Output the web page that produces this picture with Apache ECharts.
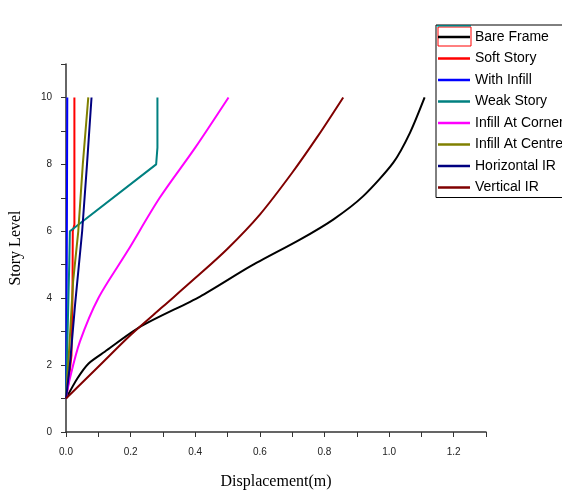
<!DOCTYPE html>
<html>
<head>
<meta charset="utf-8">
<script src="https://cdn.jsdelivr.net/npm/echarts@6/dist/echarts.min.js"></script>
<style>
  html, body { margin: 0; padding: 0; background: #fff; }
  #chart { width: 562px; height: 490px; }
</style>
</head>
<body>
<div id="chart"></div>
<script>
  // series names, in legend order
  var seriesNames = ['Bare Frame', 'Soft Story', 'With Infill', 'Weak Story',
    'Infill At Corner', 'Infill At Centre', 'Horizontal IR', 'Vertical IR']
  var seriesColors = ['#000000', '#ff0000', '#0000ff', '#008080',
    '#ff00ff', '#808000', '#000080', '#800000']
  // curved ones get smoothed, stepped ones stay straight
  var seriesSmooth = [0.25, false, false, false, 0.3, false, false, 0.3]

  // displacement (m) / story level
  var bareX = [0, 0.035, 0.07, 0.12, 0.23, 0.415, 0.57, 0.724, 0.827, 0.92, 1.013, 1.065, 1.11]
  var bareY = [1, 1.6, 2.05, 2.4, 3.15, 4.05, 4.95, 5.75, 6.35, 7.05, 8.05, 8.95, 10]

  var softX = [0, 0.008, 0.017, 0.02, 0.021, 0.026, 0.026]
  var softY = [1, 1.5, 2.3, 4, 6, 6.2, 10]

  var infillX = [0, 0.002, 0.003, 0.004]
  var infillY = [1, 4, 7, 10]

  var weakX = [0, 0.005, 0.01, 0.012, 0.279, 0.283, 0.283]
  var weakY = [1, 3, 5, 6, 8, 8.5, 10]

  var cornerX = [0, 0.012, 0.043, 0.1, 0.19, 0.29, 0.4, 0.503]
  var cornerY = [1, 1.6, 2.7, 4.0, 5.4, 7.0, 8.5, 10]

  var centreX = [0, 0.01, 0.022, 0.038, 0.052, 0.069]
  var centreY = [1, 2.5, 4.5, 6, 8, 10]

  var horizX = [0, 0.012, 0.028, 0.05, 0.065, 0.079]
  var horizY = [1, 2, 3.8, 6, 8, 10]

  var vertX = [0, 0.1, 0.2, 0.3, 0.4, 0.5, 0.6, 0.7, 0.78, 0.858]
  var vertY = [1, 1.95, 2.9, 3.75, 4.6, 5.48, 6.5, 7.75, 8.85, 10]

  var xTickLabels = ['0.0', '0.2', '0.4', '0.6', '0.8', '1.0', '1.2']
  var yTickLabels = ['0', '2', '4', '6', '8', '10']

  var allX = [bareX, softX, infillX, weakX, cornerX, centreX, horizX, vertX]
  var allY = [bareY, softY, infillY, weakY, cornerY, centreY, horizY, vertY]

  function zip(xs, ys) {
    return xs.map(function (x, i) { return [x, ys[i]] })
  }

  var chart = echarts.init(document.getElementById('chart'))

  var series = seriesNames.map(function (name, i) {
    return {
      name: name,
      type: 'line',
      symbol: 'none',
      smooth: seriesSmooth[i],
      data: zip(allX[i], allY[i]),
      lineStyle: { color: seriesColors[i], width: 2 },
      itemStyle: { color: seriesColors[i] }
    }
  })

  var options = {
    animation: false,
    grid: { left: 66, right: 76, top: 64, bottom: 58, outerBoundsMode: 'none', containLabel: false },
    legend: {
      orient: 'vertical',
      left: 436,
      top: 25,
      padding: [5, 4, 3, 2],
      icon: 'rect',
      itemWidth: 32,
      itemHeight: 2.5,
      itemGap: 7.5,
      borderColor: '#000',
      borderWidth: 1,
      data: seriesNames,
      textStyle: { fontFamily: 'Liberation Sans', fontSize: 14, color: '#000', lineHeight: 14 }
    },
    xAxis: {
      type: 'value',
      min: 0,
      max: 1.3,
      interval: 0.1,
      name: 'Displacement(m)',
      nameLocation: 'middle',
      nameGap: 42,
      nameTextStyle: { fontFamily: 'Liberation Serif', fontSize: 16, color: '#000' },
      splitLine: { show: false },
      axisLine: { onZero: false, lineStyle: { color: '#333', width: 1.5 } },
      axisTick: { inside: false, length: 5, lineStyle: { color: '#333' } },
      axisLabel: {
        margin: 15,
        fontFamily: 'Liberation Sans',
        fontSize: 10,
        color: '#222',
        formatter: function (v) {
          var k = Math.round(v * 10)
          return k % 2 === 0 ? (xTickLabels[k / 2] || '') : ''
        }
      }
    },
    yAxis: {
      type: 'value',
      min: 0,
      max: 11,
      interval: 1,
      name: 'Story Level',
      nameLocation: 'middle',
      nameGap: 42,
      nameTextStyle: { fontFamily: 'Liberation Serif', fontSize: 16, color: '#000' },
      splitLine: { show: false },
      axisLine: { onZero: false, lineStyle: { color: '#333', width: 1.5 } },
      axisTick: { inside: false, length: 5, lineStyle: { color: '#333' } },
      axisLabel: {
        margin: 14,
        fontFamily: 'Liberation Sans',
        fontSize: 10,
        color: '#222',
        formatter: function (v) {
          var k = Math.round(v)
          return k % 2 === 0 ? (yTickLabels[k / 2] || '') : ''
        }
      }
    },
    graphic: [
      { type: 'line', shape: { x1: 437, y1: 26, x2: 471, y2: 26 }, style: { stroke: '#00ffff', lineWidth: 2 } },
      { type: 'rect', shape: { x: 438, y: 27, width: 33, height: 19 }, style: { fill: 'none', stroke: '#ff0000', lineWidth: 1 } }
    ],
    series: series
  }

  chart.setOption(options, true)
</script>
</body>
</html>
